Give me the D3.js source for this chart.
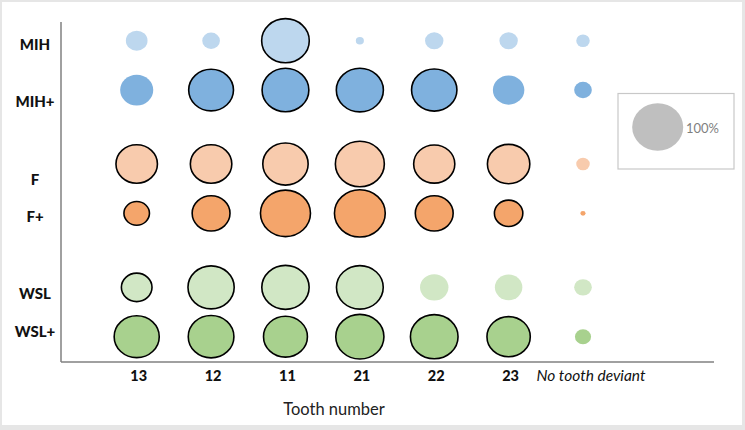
<!DOCTYPE html>
<html lang="en">
<head>
    <meta charset="UTF-8" />
    <script src="https://d3js.org/d3.v7.min.js"></script>
    <title>Tooth number bubbles</title>
    <style>
        body { margin: 0; background: #fff; }
        text { font-family: Lato, "Open Sans", sans-serif; }
    </style>
</head>
<body>
    <script>
        // categories
        var teeth = ["13", "12", "11", "21", "22", "23", "No tooth deviant"];
        var groups = ["MIH", "MIH+", "F", "F+", "WSL", "WSL+"];

        // share of children per tooth (%)
        var mih     = [18, 12, 87, 2.5, 13, 13, 7];
        var mihPlus = [42, 77, 84, 85, 79, 38, 12];
        var f       = [66, 66, 79, 92, 65, 69, 7];
        var fPlus   = [25, 55, 96, 99, 55, 31, 1];
        var wsl     = [36, 82, 86, 84, 31, 29, 12];
        var wslPlus = [78, 80, 74, 89, 87, 72, 10];

        // 1 = outlined (significant) bubble
        var mihSig     = [0, 0, 1, 0, 0, 0, 0];
        var mihPlusSig = [0, 1, 1, 1, 1, 0, 0];
        var fSig       = [1, 1, 1, 1, 1, 1, 0];
        var fPlusSig   = [1, 1, 1, 1, 1, 1, 0];
        var wslSig     = [1, 1, 1, 1, 0, 0, 0];
        var wslPlusSig = [1, 1, 1, 1, 1, 1, 0];

        var legendValue = 100;

        var series = [mih, mihPlus, f, fPlus, wsl, wslPlus];
        var sigs = [mihSig, mihPlusSig, fSig, fPlusSig, wslSig, wslPlusSig];
        var colors = ["#bdd7ee", "#7fb1de", "#f8cbad", "#f4a56b", "#d1e7c5", "#a8d18e"];
        // small nudges of the row labels relative to their bubbles
        var labelShift = [3.5, 12, 15.5, 3.5, 6.5, -5.5];

        var width = 745, height = 430;

        var svg = d3.select("body").append("svg")
            .attr("width", width)
            .attr("height", height);

        // picture frame
        svg.append("rect").attr("width", width).attr("height", height).attr("fill", "#e6e6e6");
        svg.append("rect").attr("x", 2).attr("y", 2).attr("width", 740).attr("height", 423).attr("fill", "#fff");

        var x = d3.scalePoint().domain(teeth).range([136.7, 583]);
        // rows come in pairs with a wider gap between the pairs
        var slot = function (i) { return Math.floor(i / 2) * 2.5 + (i % 2); };
        var y = d3.scaleLinear().domain([0, 6]).range([40.7, 336.7]);
        var r = d3.scaleSqrt().domain([0, 100]).range([0, 23.7]);
        var aspect = 1.077;

        // axes
        svg.append("line").attr("x1", 61).attr("x2", 61).attr("y1", 22).attr("y2", 362)
            .attr("stroke", "#808080").attr("stroke-width", 1.5);
        svg.append("line").attr("x1", 61).attr("x2", 714).attr("y1", 362).attr("y2", 362)
            .attr("stroke", "#808080").attr("stroke-width", 1.5);

        var cells = [];
        series.forEach(function (vals, i) {
            vals.forEach(function (v, j) {
                cells.push({ group: i, tooth: teeth[j], value: v, sig: sigs[i][j] });
            });
        });

        svg.append("g").selectAll("ellipse").data(cells)
            .enter().append("ellipse")
            .attr("cx", function (d) { return x(d.tooth); })
            .attr("cy", function (d) { return y(slot(d.group)); })
            .attr("rx", function (d) { return r(d.value) * aspect; })
            .attr("ry", function (d) { return r(d.value); })
            .attr("fill", function (d) { return colors[d.group]; })
            .attr("stroke", function (d) { return d.sig ? "#000" : "none"; })
            .attr("stroke-width", 1.6);

        // row labels
        svg.append("g").selectAll("text").data(groups)
            .enter().append("text")
            .attr("x", 35)
            .attr("y", function (d, i) { return y(slot(i)) + labelShift[i]; })
            .attr("dy", "0.36em")
            .attr("text-anchor", "middle")
            .attr("font-weight", "900")
            .attr("font-size", "15px")
            .attr("fill", "#111")
            .text(function (d) { return d; });

        // tooth labels
        svg.append("g").selectAll("text").data(teeth)
            .enter().append("text")
            .attr("x", function (d) { return x(d) + (d.length > 2 ? 8 : 2); })
            .attr("y", 381)
            .attr("text-anchor", "middle")
            .attr("font-weight", function (d) { return d.length > 2 ? "normal" : "900"; })
            .attr("font-style", function (d) { return d.length > 2 ? "italic" : "normal"; })
            .attr("font-size", function (d) { return d.length > 2 ? "15.5px" : "14.5px"; })
            .attr("fill", "#111")
            .text(function (d) { return d; });

        svg.append("text")
            .attr("x", 334).attr("y", 415)
            .attr("text-anchor", "middle")
            .attr("font-size", "16.5px")
            .attr("fill", "#222")
            .text("Tooth number");

        // size legend
        var lg = svg.append("g");
        lg.append("rect").attr("x", 618).attr("y", 93.5).attr("width", 116).attr("height", 75.5)
            .attr("fill", "none").attr("stroke", "#c8c8c8").attr("stroke-width", 1.2);
        lg.append("ellipse").attr("cx", 657.7).attr("cy", 127)
            .attr("rx", r(legendValue) * aspect).attr("ry", r(legendValue))
            .attr("fill", "#bfbfbf");
        lg.append("text").attr("x", 686).attr("y", 132.5)
            .attr("font-size", "13px").attr("fill", "#7f7f7f")
            .text(legendValue + "%");
    </script>
</body>
</html>
